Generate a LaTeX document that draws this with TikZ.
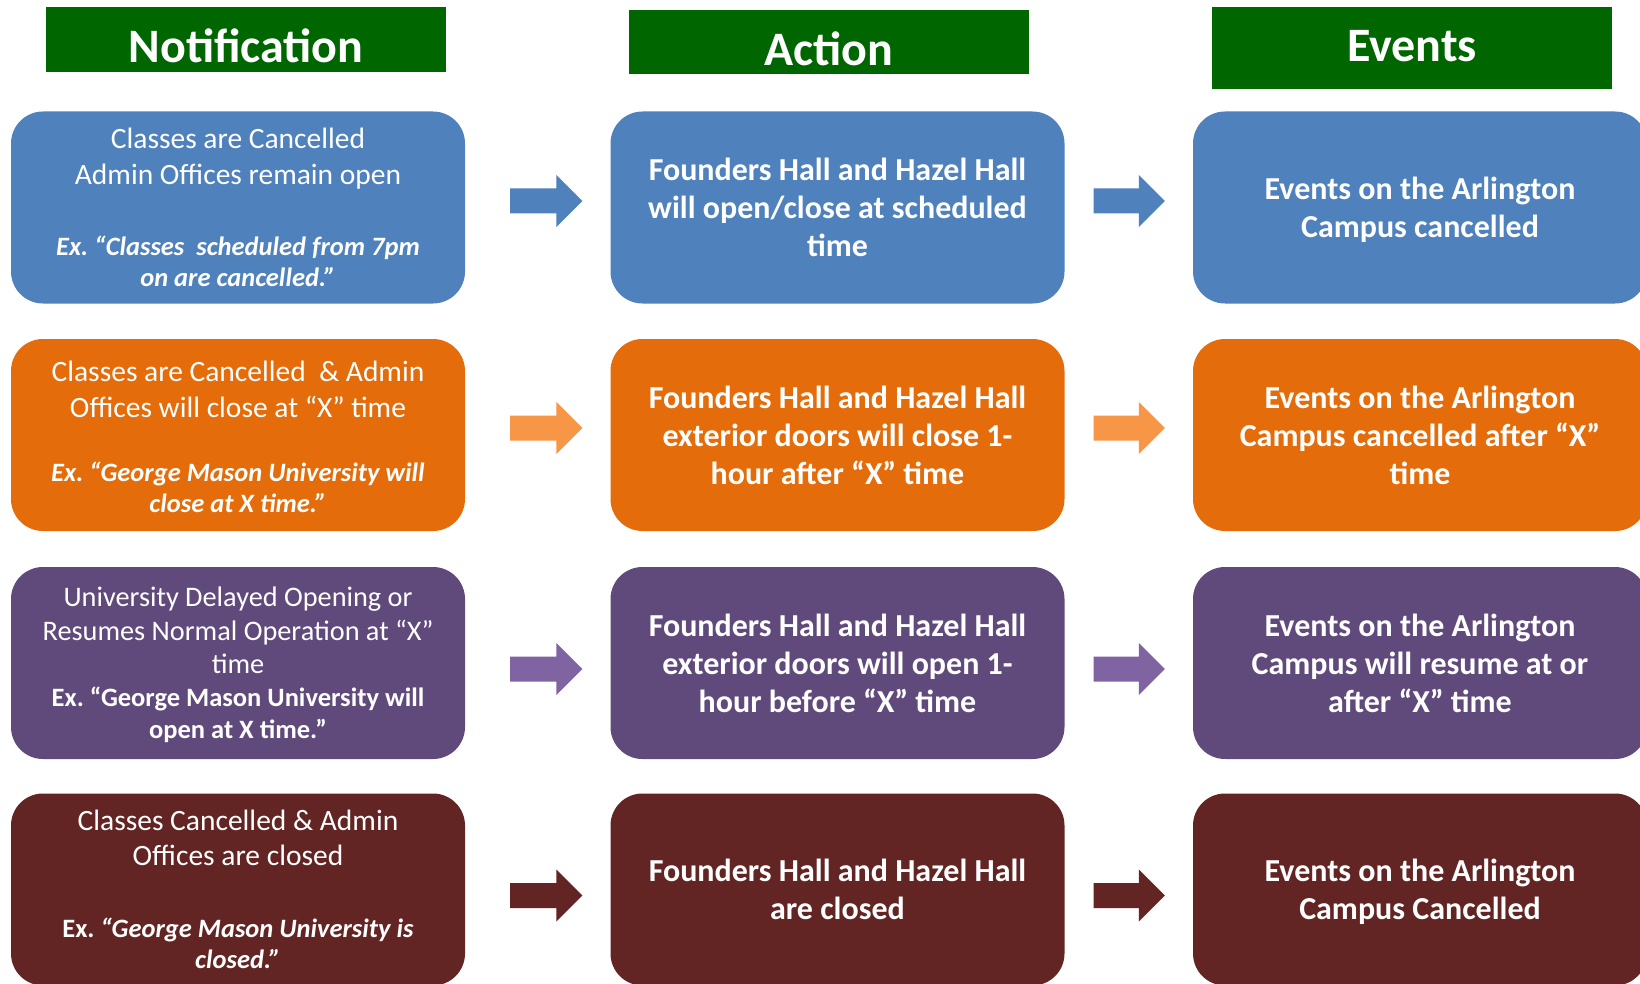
\documentclass[tikz,border=0pt]{standalone}
\usepackage{fontspec}
\setmainfont{Carlito}
\usetikzlibrary{calc}
\definecolor{hdrgreen}{RGB}{0,102,0}
\definecolor{cblue}{RGB}{79,129,189}
\definecolor{corange}{RGB}{228,108,10}
\definecolor{aorange}{RGB}{247,150,70}
\definecolor{cpurple}{RGB}{96,74,123}
\definecolor{apurple}{RGB}{128,100,162}
\definecolor{cmaroon}{RGB}{99,37,35}
% fixed natural inter-word space of the current font
\newcommand\ns{\spaceskip=\fontdimen2\font\xspaceskip=\fontdimen2\font\relax}
\tikzset{
  hdr/.style={fill=hdrgreen, text=white, minimum width=400pt, inner sep=0pt,
    text depth=0pt, font=\fontsize{48}{52}\selectfont\bfseries},
  card/.style={rounded corners=32pt, minimum width=454pt, minimum height=192pt,
    text width=440pt, align=center, text=white, inner sep=0pt},
  act/.style={card, font=\fontsize{32}{38}\selectfont\bfseries},
}
% #1 from node, #2 to node, #3 vertical offset, #4 colour, #5 gap after source
\newcommand\blockarr[5]{%
  \fill[#4] ($(#1.east)+(#5,#3-12.5)$) -- ($(#2.west)+(-54,#3-12.5)$)
    -- ($(#2.west)+(-54,#3-26)$) -- ($(#2.west)+(-28,#3)$)
    -- ($(#2.west)+(-54,#3+26)$) -- ($(#2.west)+(-54,#3+12.5)$)
    -- ($(#1.east)+(#5,#3+12.5)$) -- cycle;}
\begin{document}
\begin{tikzpicture}[x=1pt,y=-1pt]
\clip (0,0) rectangle (1640,984);
\fill[white] (0,0) rectangle (1640,984);
% headers
\node[hdr, minimum height=65pt, text height=47pt] (h1) at (246,39.5) {Notification};
\node[hdr, minimum height=64pt, text height=48pt] (h2) at (829,42) {Action};
\node[hdr, minimum height=82pt, text height=28pt] (h3) at (1412,48) {Events};
% row 1
\node[card, fill=cblue] (n1) at (238,207.5) {\fontsize{29.5}{35.6}\selectfont\ns Classes are Cancelled\\Admin Offices remain open\par\vspace{40pt}\fontsize{26.5}{31.4}\selectfont\bfseries\itshape\ns Ex. “Classes\ \ scheduled from 7pm\\on are cancelled.”\par};
\node[act, fill=cblue] (a1) at (837.5,207.5) {\ns Founders Hall and Hazel Hall\\will open/close at scheduled\\time};
\node[act, fill=cblue] (e1) at (1420,207.5) {\ns Events on the Arlington\\\smash{Campus cancelled}};
% row 2
\node[card, fill=corange] (n2) at (238,435) {\fontsize{29.5}{35.6}\selectfont\ns Classes are Cancelled\ \ \& Admin\\Offices will close at “X” time\par\vspace{33pt}\fontsize{26.5}{31.4}\selectfont\bfseries\itshape\ns Ex. “George Mason University will\\close at X time.”\par\vspace{-4pt}};
\node[act, fill=corange] (a2) at (837.5,435) {\ns Founders Hall and Hazel Hall\\exterior doors will close 1-\\hour after “X” time};
\node[act, fill=corange] (e2) at (1420,435) {\ns Events on the Arlington\\Campus cancelled after “X”\\time};
% row 3
\node[card, fill=cpurple] (n3) at (238,663) {\fontsize{28.3}{33.5}\selectfont\ns University Delayed Opening or\\Resumes Normal Operation at “X”\\time\par\fontsize{26.5}{32.5}\selectfont\bfseries\ns Ex. “George Mason University will\\\smash{open at X time.”}\par};
\node[act, fill=cpurple] (a3) at (837.5,663) {\ns Founders Hall and Hazel Hall\\exterior doors will open 1-\\hour before “X” time};
\node[act, fill=cpurple] (e3) at (1420,663) {\ns Events on the Arlington\\Campus will resume at or\\after “X” time};
% row 4
\node[card, fill=cmaroon] (n4) at (238,889.5) {\fontsize{29.5}{35}\selectfont\ns Classes Cancelled \& Admin\\Offices are closed\par\vspace{40.5pt}\fontsize{26.5}{31.4}\selectfont\bfseries\ns Ex. \textit{“George Mason University is}\\\textit{closed.”}\par};
\node[act, fill=cmaroon] (a4) at (837.5,889.5) {\ns Founders Hall and Hazel Hall\\are closed};
\node[act, fill=cmaroon] (e4) at (1420,889.5) {\ns Events on the Arlington\\\smash{Campus Cancelled}};
% arrows
\blockarr{n1}{a1}{-6.5}{cblue}{45}
\blockarr{a1}{e1}{-6.5}{cblue}{29}
\blockarr{n2}{a2}{-7}{aorange}{45}
\blockarr{a2}{e2}{-7}{aorange}{29}
\blockarr{n3}{a3}{6}{apurple}{45}
\blockarr{a3}{e3}{6}{apurple}{29}
\blockarr{n4}{a4}{6}{cmaroon}{45}
\blockarr{a4}{e4}{6}{cmaroon}{29}
\end{tikzpicture}
\end{document}
